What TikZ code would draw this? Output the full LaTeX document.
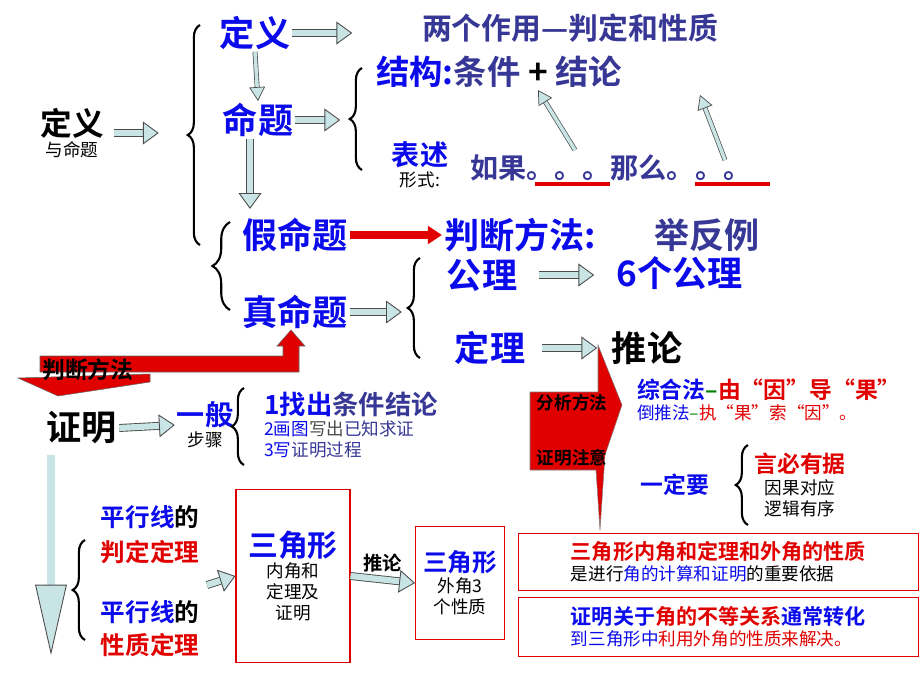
\documentclass[tikz,border=0pt]{standalone}
\usepackage{fontspec}
\setmainfont{Noto Sans CJK SC}[BoldFont={* Bold}]
\usetikzlibrary{arrows.meta,decorations.pathreplacing}
\definecolor{blu}{RGB}{10,10,235}
\definecolor{sla}{RGB}{55,55,150}
\definecolor{rd}{RGB}{225,0,0}
\definecolor{pale}{RGB}{200,228,228}
\newcommand{\fs}[1]{\fontsize{#1}{\numexpr#1*5/4\relax}\selectfont\bfseries}
\tikzset{
  fat/.style={draw=gray!60!black,double=pale,double distance=3.5pt,line width=0.5pt,
    -{Triangle[length=9pt,width=13pt,fill=pale,color=gray!60!black,line width=0.5pt]}},
  slim/.style={draw=gray!60!black,double=pale,double distance=2pt,line width=0.4pt,
    -{Triangle[length=8pt,width=9pt,fill=pale,color=gray!60!black,line width=0.4pt]}},
  br/.style={decorate,decoration={brace,amplitude=7pt},line width=1.2pt},
  box/.style={draw=rd,line width=0.6pt},
  every node/.style={inner sep=1pt,align=center}
}
\begin{document}
\begin{tikzpicture}[x=0.02cm,y=-0.02cm]
\useasboundingbox (0,0) rectangle (920,690);

% top part
\node (dy) at (72,133) {\fs{18}定义\\与命题};
\node (dy1) at (255,33) {\fs{20}\color{blu}定义};
\node (zy) at (570,28) {\fs{17}\color{sla}两个作用—判定和性质};
\node (mt) at (258,120) {\fs{20}\color{blu}命题};
\node[anchor=west] (jg) at (374,72) {\fs{19}\color{blu}结构:\color{sla}条件 \color{black}+ \color{sla}结论};
\node (bs) at (420,165) {\fs{16}\color{blu}表述\\形式:};
\node[anchor=west] (rg) at (468,168) {\fs{16}\color{sla}如果。。。那么。。。};
\node (jm) at (295,235) {\fs{20}\color{blu}假命题};
\node (pd) at (520,235) {\fs{20}\color{blu}判断方法:};
\node (jf) at (707,235) {\fs{20}\color{sla}举反例};
\node (zm) at (295,312) {\fs{20}\color{blu}真命题};
\node (gl) at (482,275) {\fs{20}\color{blu}公理};
\node (gl6) at (680,273) {\fs{20}\color{blu}6个公理};
\node (dl) at (490,348) {\fs{20}\color{blu}定理};
\node (tl) at (647,348) {\fs{20}推论};

\draw[fat] (dy.east) ++(8,0) coordinate (c0) -- +(45,0);
\draw[fat] (dy1.east) -- +(60,0) coordinate (c1);
\draw[slim] (dy1.south) -- (mt.north);
\draw[fat] (mt.east) -- +(45,0) coordinate (c2);
\draw[fat] (mt.south) ++(-8,0) coordinate (c3) -- +(0,70);
\draw[-{Triangle[length=8pt,width=10pt]},rd,line width=5pt] (jm.east) -- (pd.west);
\draw[fat] (zm.east) -- +(52,0) coordinate (c4);
\draw[fat] (gl.east) ++(20,0) coordinate (c5) -- +(55,0);
\draw[fat] (dl.east) ++(15,0) coordinate (c6) -- +(55,0);
\coordinate (u1) at (575,150); \coordinate (u2) at (725,160);
\draw[slim] (u1) -- (538,90);
\draw[slim] (u2) -- (700,95);
\draw[rd,line width=2.5pt] (535,184) -- (610,184) (695,184) -- (770,184);

\draw[br] (200,245) -- (200,25);
\draw[br] (362,170) -- (362,68);
\draw[br,decoration={amplitude=10pt}] (230,310) -- (230,222);
\draw[br] (420,358) -- (420,258);

% red arrows
\fill[rd,draw=black!60,line width=0.3pt] (40,356) -- (283,356) -- (283,346) -- (277,346) -- (291,330)
  -- (305,346) -- (299,346) -- (299,372) -- (40,372) -- cycle;
\fill[rd,draw=black!60,line width=0.3pt] (18,378) -- (150,374) -- (150,382) -- (58,396) -- cycle;
\node (pf) at (88,370) {\fs{13}判断方法};

% proof part
\node (zmg) at (82,428) {\fs{20}证明};
\node (yb) at (205,425) {\fs{16}\color{blu}一般\\步骤};
\node[anchor=west,align=left] (bz) at (262,425)
  {\fs{15}\color{blu}1找出\color{sla}条件结论\\\color{blu}2画图\color{black!70}写出\color{sla}已知求证\\\color{blu}3写\color{sla}证明过程};
\draw[fat] (zmg.east) -- (yb.west);
\draw[br] (244,465) -- (244,388);

\fill[rd,draw=black!50,line width=0.3pt] (530,392) -- (598,392) -- (598,345) -- (622,405) -- (605,455)
  -- (600,530) -- (596,470) -- (530,470) -- cycle;
\node (fx) at (572,403) {\fs{10}分析方法};
\node (zy2) at (572,458) {\fs{10}证明注意};
\node[anchor=west,align=left] (zh) at (635,400)
  {\fs{13}\color{blu}综合法\color{green!50!black}–\color{rd}由“因”导“果”\\\color{blu}倒推法\color{green!50!black}–\color{rd}执“果”索“因”。};
\node (ydy) at (675,485) {\fs{13}\color{blu}一定要};
\node (yb2) at (800,485) {\fs{13}\color{rd}言必有据\\因果对应\\逻辑有序};
\draw[br] (748,525) -- (748,445);

\coordinate (v0) at (51,455);
\draw[draw=gray!60!black,double=pale,double distance=4pt,line width=0.5pt,
  -{Triangle[length=40pt,width=18pt,fill=pale,color=gray!60!black,line width=0.5pt]}] (v0) -- (51,655);
\node (px1) at (150,517) {\fs{14}\color{blu}平行线\color{black}的};
\node (pd1) at (150,552) {\fs{14}\color{rd}判定定理};
\node (px2) at (150,612) {\fs{14}\color{blu}平行线\color{black}的};
\node (xz) at (150,645) {\fs{14}\color{rd}性质定理};
\draw[br] (85,640) -- (85,540);
\node[box,minimum width=2.28cm,minimum height=3.46cm] (nj) at (293,576) {\fs{17}\color{blu}三角形\\内角和\\定理及\\证明};
\draw[fat] (207,585) -- (nj.west);
\node[box,minimum width=1.78cm,minimum height=2.26cm] (wj) at (460,583) {\fs{14}\color{blu}三角形\\外角3\\个性质};
\draw[fat] (nj.east) -- (wj.west) node[midway,above=3pt] (tl2) {\fs{11}推论};
\node[box,anchor=north west,minimum width=8cm,minimum height=1.14cm,align=left] (t1) at (518,533)
  {\fs{12}\color{rd}三角形内角和定理和外角的性质\\\color{black}是进行\color{blu}角的计算和证明\color{black}的重要依据};
\node[box,anchor=north west,minimum width=8cm,minimum height=1.18cm,align=left] (t2) at (518,597)
  {\fs{12}\color{blu}证明关于\color{rd}角的不等关系\color{blu}通常转化\\\color{blu}到三角形中\color{rd}利用外角的性质来解决。};
\end{tikzpicture}
\end{document}
